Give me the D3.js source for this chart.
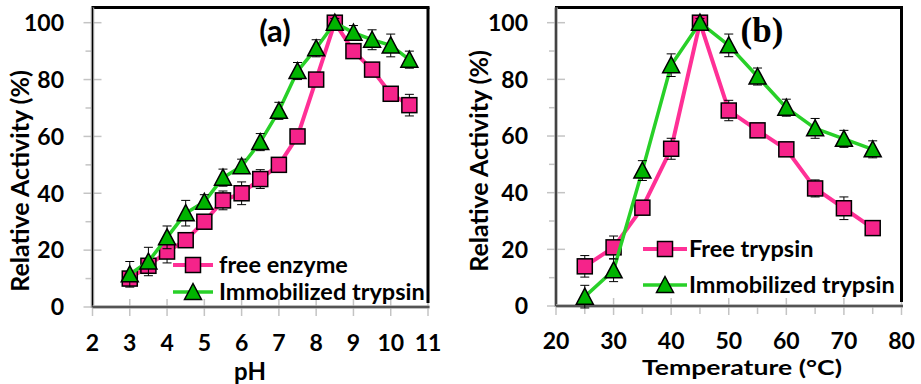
<!DOCTYPE html>
<html>
<head>
<meta charset="utf-8">
<script src="https://cdn.jsdelivr.net/npm/d3@7"></script>
<style>
  html, body { margin: 0; padding: 0; background: #fff; }
  svg { display: block; }
  text { font-family: Lato, "Open Sans", sans-serif; font-weight: 700; fill: #000; }
</style>
</head>
<body>
<svg id="chart" width="921" height="384"></svg>
<script>
// ---------- data ----------
const phValues = [3, 3.5, 4, 4.5, 5, 5.5, 6, 6.5, 7, 7.5, 8, 8.5, 9, 9.5, 10, 10.5];
const phFree = [10, 14.5, 19.5, 23.5, 30, 37.5, 40, 45, 50, 60, 80, 100, 90, 83.5, 75, 71];
const phFreeErr = [1.5, 1.5, 4, 2, 2, 3.3, 4, 3.3, 1.5, 1.5, 1.5, 1, 2, 2, 2, 3.8];
const phImmob = [11.5, 16, 24.5, 33, 37, 45.5, 49.5, 58, 69, 83, 91, 100, 96.5, 94, 92, 87];
const phImmobErr = [4.5, 5, 4, 4.5, 2.5, 3, 2.5, 3, 3, 3, 3, 1.5, 2.5, 3.5, 4, 3];

const tempValues = [25, 30, 35, 40, 45, 50, 55, 60, 65, 70, 75];
const tempFree = [14, 20.7, 34.7, 55.5, 100, 69, 62, 55.3, 41.5, 34.5, 27.5];
const tempFreeErr = [3.8, 4, 1.5, 3.7, 1, 3.6, 1.5, 1.5, 3, 4, 1.5];
const tempImmob = [3.3, 12.6, 47.8, 85, 100, 92, 81, 70, 62.7, 59, 55.3];
const tempImmobErr = [4, 4, 3.5, 4, 1.5, 4, 3, 3, 3.5, 3, 3];

const yTicks = [0, 20, 40, 60, 80, 100];
const yMinorTicks = [10, 30, 50, 70, 90];
const phTicks = [2, 3, 4, 5, 6, 7, 8, 9, 10, 11];
const tempTicks = [20, 30, 40, 50, 60, 70, 80];
const tempMinorTicks = [25, 35, 45, 55, 65, 75];

const PINK_LINE = "#ff3096";
const PINK_FILL = "#f5238a";
const GREEN_LINE = "#28d028";
const GREEN_FILL = "#00b400";
const GRAY = "#c4c4c4";

const svg = d3.select("#chart");

function drawPanel(cfg) {
  const x = d3.scaleLinear().domain(cfg.xDomain).range([cfg.left, cfg.right]);
  const y = d3.scaleLinear().domain([0, 100]).range([cfg.bottom, cfg.y100]);
  const g = svg.append("g");

  g.selectAll(".ymaj").data(yTicks).join("line")
    .attr("x1", cfg.left - 9).attr("x2", cfg.left + 9)
    .attr("y1", d => y(d)).attr("y2", d => y(d))
    .attr("stroke", GRAY).attr("stroke-width", 1.5);
  g.selectAll(".ymin").data(yMinorTicks).join("line")
    .attr("x1", cfg.left - 7).attr("x2", cfg.left)
    .attr("y1", d => y(d)).attr("y2", d => y(d))
    .attr("stroke", GRAY).attr("stroke-width", 1.5);
  g.selectAll(".xmaj").data(cfg.xTicks).join("line")
    .attr("x1", d => x(d)).attr("x2", d => x(d))
    .attr("y1", cfg.bottom - 8).attr("y2", cfg.bottom + 9)
    .attr("stroke", GRAY).attr("stroke-width", 1.5);
  g.selectAll(".xmin").data(cfg.xMinor).join("line")
    .attr("x1", d => x(d)).attr("x2", d => x(d))
    .attr("y1", cfg.bottom).attr("y2", cfg.bottom + 8)
    .attr("stroke", GRAY).attr("stroke-width", 1.5);

  g.append("line").attr("x1", cfg.left - 1).attr("x2", cfg.right + 1.5)
    .attr("y1", cfg.top).attr("y2", cfg.top).attr("stroke", "#000").attr("stroke-width", 3);
  g.append("line").attr("x1", cfg.right).attr("x2", cfg.right)
    .attr("y1", cfg.top).attr("y2", cfg.bottom - 4).attr("stroke", "#000").attr("stroke-width", 3);
  g.append("line").attr("x1", cfg.left).attr("x2", cfg.left)
    .attr("y1", cfg.top).attr("y2", cfg.bottom + 1).attr("stroke", "#a8a8a8").attr("stroke-width", 3.5);
  g.append("line").attr("x1", cfg.left).attr("x2", cfg.left)
    .attr("y1", cfg.top).attr("y2", cfg.bottom).attr("stroke", "#000").attr("stroke-width", 1.2);
  g.append("line").attr("x1", cfg.left).attr("x2", cfg.right + 1.5)
    .attr("y1", cfg.bottom).attr("y2", cfg.bottom).attr("stroke", "#a8a8a8").attr("stroke-width", 3.5);
  g.append("line").attr("x1", cfg.left).attr("x2", cfg.right + 1.5)
    .attr("y1", cfg.bottom).attr("y2", cfg.bottom).attr("stroke", "#000").attr("stroke-width", 1.2);

  g.selectAll(".ylab").data(yTicks).join("text")
    .attr("x", cfg.yLabelRight).attr("y", d => y(d)).attr("dy", "0.36em")
    .attr("text-anchor", "end").attr("font-size", 23).text(d => d);
  g.selectAll(".xlab").data(cfg.xTicks).join("text")
    .attr("x", d => x(d)).attr("y", cfg.xLabelBaseline)
    .attr("text-anchor", "middle").attr("font-size", 23).text(d => d);

  g.append("text")
    .attr("transform", `translate(${cfg.yTitleX},${cfg.yTitleY}) rotate(-90)`)
    .attr("text-anchor", "middle").attr("font-size", 25).text("Relative Activity (%)");
  const xt = g.append("text")
    .attr("x", cfg.xTitleX).attr("y", cfg.xTitleY)
    .attr("text-anchor", "middle").attr("font-size", cfg.xTitleSize).text(cfg.xTitle);
  if (cfg.xTitleLen) xt.attr("textLength", cfg.xTitleLen).attr("lengthAdjust", "spacingAndGlyphs");

  g.append("text").attr("x", cfg.labelX).attr("y", cfg.labelY)
    .attr("text-anchor", "middle")
    .attr("font-size", cfg.labelSize)
    .style("font-family", cfg.labelFont)
    .text(cfg.label);

  const line = d3.line().x(d => x(d[0])).y(d => y(d[1]));

  function series(xs, vals, errs, lineColor, fillColor, lw, marker) {
    const pts = xs.map((v, i) => [v, vals[i], errs[i]]);
    g.append("path").datum(pts).attr("d", line)
      .attr("fill", "none").attr("stroke", lineColor).attr("stroke-width", lw)
      .attr("stroke-linejoin", "round");
    const eb = g.append("g").attr("stroke", "#000").attr("stroke-width", 1);
    eb.selectAll(".v").data(pts).join("line")
      .attr("x1", d => x(d[0])).attr("x2", d => x(d[0]))
      .attr("y1", d => y(d[1] - d[2])).attr("y2", d => y(d[1] + d[2]));
    eb.selectAll(".t").data(pts).join("line")
      .attr("x1", d => x(d[0]) - 4.5).attr("x2", d => x(d[0]) + 4.5)
      .attr("y1", d => y(d[1] + d[2])).attr("y2", d => y(d[1] + d[2]));
    eb.selectAll(".b").data(pts).join("line")
      .attr("x1", d => x(d[0]) - 4.5).attr("x2", d => x(d[0]) + 4.5)
      .attr("y1", d => y(d[1] - d[2])).attr("y2", d => y(d[1] - d[2]));
    drawMarkers(g, pts.map(d => [x(d[0]), y(d[1])]), fillColor, marker);
  }

  series(cfg.xs, cfg.free, cfg.freeErr, PINK_LINE, PINK_FILL, 4, "square");
  series(cfg.xs, cfg.immob, cfg.immobErr, GREEN_LINE, GREEN_FILL, 3.5, "triangle");

  const lg = g.append("g");
  const items = [
    { name: cfg.legendNames[0], c: PINK_LINE, f: PINK_FILL, m: "square", lw: 4, yy: cfg.legY[0] },
    { name: cfg.legendNames[1], c: GREEN_LINE, f: GREEN_FILL, m: "triangle", lw: 3.5, yy: cfg.legY[1] }
  ];
  items.forEach(it => {
    lg.append("line").attr("x1", cfg.legX0).attr("x2", cfg.legX1)
      .attr("y1", it.yy).attr("y2", it.yy).attr("stroke", it.c).attr("stroke-width", it.lw);
    drawMarkers(lg, [[(cfg.legX0 + cfg.legX1) / 2, it.yy]], it.f, it.m);
    lg.append("text").attr("x", cfg.legTextX).attr("y", it.yy).attr("dy", "0.36em")
      .attr("font-size", 23.5).text(it.name);
  });
}

function drawMarkers(g, pts, fill, kind) {
  if (kind === "square") {
    g.selectAll(null).data(pts).join("rect")
      .attr("x", d => d[0] - 7.5).attr("y", d => d[1] - 7.5)
      .attr("width", 15).attr("height", 15)
      .attr("fill", fill).attr("stroke", "#000").attr("stroke-width", 1.5);
  } else {
    g.selectAll(null).data(pts).join("path")
      .attr("d", d => `M${d[0]},${d[1] - 8.5} L${d[0] + 8.5},${d[1] + 7.5} L${d[0] - 8.5},${d[1] + 7.5} Z`)
      .attr("fill", fill).attr("stroke", "#000").attr("stroke-width", 1.5)
      .attr("stroke-linejoin", "miter");
  }
}

drawPanel({
  xDomain: [2, 11], left: 92.5, right: 428, top: 7.5, bottom: 307, y100: 22.7,
  xTicks: phTicks, xMinor: [],
  yLabelRight: 64, xLabelBaseline: 351,
  yTitleX: 29, yTitleY: 181, xTitleX: 250, xTitleY: 380, xTitle: "pH", xTitleSize: 24, xTitleLen: 0,
  label: "(a)", labelX: 275, labelY: 42, labelSize: 31, labelFont: "Lato, sans-serif",
  xs: phValues, free: phFree, freeErr: phFreeErr, immob: phImmob, immobErr: phImmobErr,
  legendNames: ["free enzyme", "Immobilized trypsin"],
  legX0: 173, legX1: 213, legTextX: 219, legY: [265, 292]
});

drawPanel({
  xDomain: [20, 80], left: 556, right: 901.5, top: 7.5, bottom: 306, y100: 22.7,
  xTicks: tempTicks, xMinor: tempMinorTicks,
  yLabelRight: 528, xLabelBaseline: 349,
  yTitleX: 488, yTitleY: 161, xTitleX: 742, xTitleY: 375, xTitle: "Temperature (°C)", xTitleSize: 20, xTitleLen: 200,
  label: "(b)", labelX: 762, labelY: 42, labelSize: 35, labelFont: "'Liberation Serif', 'Times New Roman', serif",
  xs: tempValues, free: tempFree, freeErr: tempFreeErr, immob: tempImmob, immobErr: tempImmobErr,
  legendNames: ["Free trypsin", "Immobilized trypsin"],
  legX0: 643, legX1: 687, legTextX: 689, legY: [249, 285]
});
</script>
</body>
</html>
